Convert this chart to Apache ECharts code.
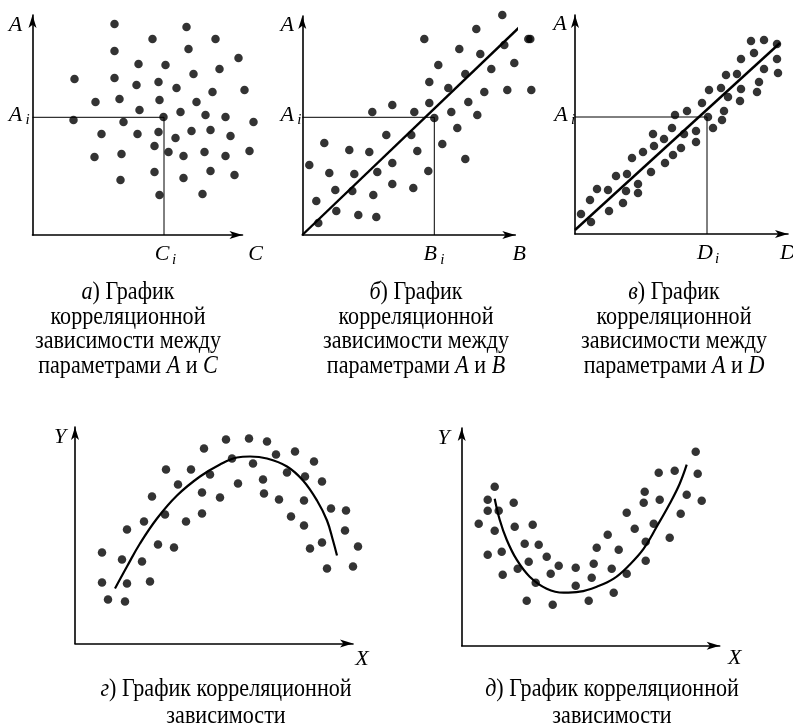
<!DOCTYPE html>
<html><head><meta charset="utf-8">
<script src="https://cdn.jsdelivr.net/npm/echarts@6/dist/echarts.min.js"></script>
<style>html,body{margin:0;padding:0;background:#fff}#c{width:793px;height:726px}</style>
</head><body><div id="c"></div>
<script>
// Panel а: A vs C (no correlation)
const dots1 = [[82,211],[154,208],[120,196],[183,196],[82,184],[156,186],[206,177],[106,171],[133,170],[187,166],[161,161],[42,156],[82,157],[126,153],[104,150],[144,147],[212,145],[180,143],[87,136],[63,133],[127,135],[164,133],[107,125],[148,123],[173,120],[193,118],[131,118],[41,115],[91,113],[221,113],[159,104],[178,105],[69,101],[105,101],[126,103],[198,99],[143,97],[122,89],[136,83],[172,83],[217,84],[62,78],[89,81],[151,79],[193,79],[178,64],[122,63],[202,60],[88,55],[151,57],[170,41],[127,40]];
const ref1 = [131.5, 117.7];
// Panel б: A vs B
const dots2 = [[200,220],[174,206],[122,196],[226,196],[157,186],[202,190],[178,181],[136,170],[212,172],[189,166],[163,161],[127,153],[146,147],[205,145],[228,196],[229,145],[182,143],[70,123],[90,130],[112,123],[127,132],[166,133],[149,123],[132,117],[175,120],[155,107],[84,100],[109,100],[22,92],[47,85],[67,83],[140,91],[115,84],[7,70],[90,72],[163,76],[27,62],[52,61],[75,63],[126,64],[33,45],[50,44],[90,51],[111,47],[14,34],[71,40],[34,24],[56,20],[74,18],[16,12]];
const ref2 = [132, 117.7];
const fit2 = [[0,0],[235,225]];
// Panel в: A vs D
const dots3 = [[176,193],[189,194],[202,190],[179,181],[166,175],[202,175],[189,165],[203,161],[151,159],[162,160],[184,152],[134,144],[146,146],[166,145],[182,142],[153,137],[165,133],[127,131],[149,123],[100,119],[112,123],[133,117],[147,114],[138,106],[97,106],[121,103],[78,100],[89,95],[109,100],[79,88],[121,92],[106,86],[68,82],[98,79],[57,76],[90,71],[76,62],[52,60],[41,58],[63,50],[22,45],[33,44],[51,43],[63,41],[15,34],[48,31],[34,23],[6,20],[16,12]];
const ref3 = [132, 117];
const fit3 = [[0,4],[205,191]];
// Panel г: arch
const dots4 = [[151,204],[174,205],[192,202],[129,195],[220,192],[201,189],[157,185],[178,180],[239,182],[91,174],[116,174],[135,169],[212,171],[230,167],[188,164],[247,162],[103,159],[163,160],[127,151],[189,150],[77,147],[145,146],[204,144],[229,143],[256,135],[271,133],[90,129],[127,130],[216,127],[69,122],[111,122],[229,118],[52,114],[270,113],[83,99],[99,96],[247,101],[235,95],[283,97],[27,91],[47,84],[67,82],[252,75],[278,77],[27,61],[52,60],[75,62],[33,44],[50,42]];
const curve4 = [[40,55],[52,77],[65,100],[82,125],[102,148],[125,167],[145,179],[162,186],[175,187],[192,185],[212,177],[228,163],[242,143],[252,123],[258,103],[262,88]];
// Panel д: bowl
const dots5 = [[234,194],[197,173],[213,175],[236,172],[33,159],[183,154],[26,146],[52,143],[182,143],[198,146],[225,151],[240,145],[26,135],[37,135],[165,133],[219,132],[17,122],[53,119],[71,121],[192,122],[33,115],[173,117],[146,111],[208,108],[63,102],[77,101],[184,104],[135,98],[157,96],[40,94],[26,91],[85,89],[67,84],[184,85],[132,82],[97,80],[114,78],[56,77],[150,77],[89,72],[165,72],[41,71],[130,68],[74,63],[114,60],[152,53],[65,45],[91,41],[127,45]];
const curve5 = [[33,147],[38,126],[45,106],[55,86],[68,69],[85,57],[102,53],[118,54],[135,59],[152,67],[168,81],[182,97],[195,119],[208,142],[218,162],[225,181]];

const yNames = ['A','A','A','Y','Y'];
const xNames = ['C','B','D','X','X'];
const captionsTop = [
  ['{it|а}) График','корреляционной','зависимости между','параметрами {it|A} и {it|C}'],
  ['{it|б}) График','корреляционной','зависимости между','параметрами {it|A} и {it|B}'],
  ['{it|в}) График','корреляционной','зависимости между','параметрами {it|A} и {it|D}']
];
const captionsBottom = [
  ['{it|г}) График корреляционной','зависимости'],
  ['{it|д}) График корреляционной','зависимости']
];

// layout (pixels)
const grids = [
  {left:32.5, top:15, width:210, height:220},
  {left:302.3, top:16, width:213, height:219},
  {left:575, top:15, width:213, height:219},
  {left:75, top:427, width:278, height:216.5},
  {left:461.7, top:428, width:258, height:217.7}
];

const chart = echarts.init(document.getElementById('c'), null, {renderer:'canvas'});
const axisCommon = {
  type:'value', splitLine:{show:false}, axisTick:{show:false}, axisLabel:{show:false},
  axisLine:{show:true, onZero:false, symbol:['none','arrow'], symbolSize:[6,13], lineStyle:{color:'#000', width:1.6}}
};
const xAxis = grids.map((g,i)=>Object.assign({}, axisCommon, {gridIndex:i, min:0, max:g.width}));
const yAxis = grids.map((g,i)=>Object.assign({}, axisCommon, {gridIndex:i, min:0, max:g.height}));

const series = [];
const dotSets = [dots1,dots2,dots3,dots4,dots5];
dotSets.forEach((d,i)=>{
  series.push({type:'scatter', xAxisIndex:i, yAxisIndex:i, data:d, symbolSize:8.5, clip:false,
    itemStyle:{color:'#000'}, silent:true, z:3});
});
[[ref1,0],[ref2,1],[ref3,2]].forEach(([r,i])=>{
  series.push({type:'line', xAxisIndex:i, yAxisIndex:i, data:[[0,r[1]],[r[0],r[1]],[r[0],0]],
    symbol:'none', clip:false, lineStyle:{color:'#000', width:1}, z:2});
});
[[fit2,1],[fit3,2]].forEach(([f,i])=>{
  series.push({type:'line', xAxisIndex:i, yAxisIndex:i, data:f, symbol:'none', clip:false,
    lineStyle:{color:'#000', width:2.4}, z:4});
});
[[curve4,3],[curve5,4]].forEach(([c,i])=>{
  series.push({type:'line', xAxisIndex:i, yAxisIndex:i, data:c, symbol:'none', smooth:0.4, clip:false,
    lineStyle:{color:'#000', width:2.2}, z:4});
});

chart.setOption({
  animation:false,
  backgroundColor:'#fff',
  grid: grids.map(g=>Object.assign({outerBoundsMode:'none', containLabel:false}, g)),
  xAxis, yAxis, series
});

// labels
const serif = '"Liberation Serif", "DejaVu Serif", serif';
const g = [];
function txt(x,y,text,size,opts){
  opts = opts||{};
  g.push({type:'text', x:x, y:y, scaleX:opts.sx||1, z:10, silent:true,
    style:{text:text, font:(opts.italic?'italic ':'')+size+'px '+serif, fill:'#000',
      align:opts.align||'center', verticalAlign:'middle',
      rich: opts.rich||undefined}});
}
function px(i,pt){ return chart.convertToPixel({gridIndex:i}, pt); }

const offs = [
  {top:[-17,10], ai:[-17,-2], ci:[-2,19], end:[13,19]},
  {top:[-15,9], ai:[-15,-2], ci:[-4,19], end:[4,19]},
  {top:[-15,9], ai:[-14,-2], ci:[-2,19], end:[0,19]},
  {top:[-15,10], end:[9,16]},
  {top:[-18,10], end:[15,13]}
];
const refs = [ref1, ref2, ref3];
for (let i=0;i<5;i++){
  const gr = grids[i], o = offs[i];
  const t = px(i,[0,gr.height]);
  txt(t[0]+o.top[0], t[1]+o.top[1], yNames[i], 22, {italic:true});
  const e = px(i,[gr.width,0]);
  txt(e[0]+o.end[0], e[1]+o.end[1], xNames[i], 22, {italic:true});
  if (i<3){
    const r = refs[i];
    const a = px(i,[0,r[1]]);
    txt(a[0]+o.ai[0], a[1]+o.ai[1], yNames[i], 22, {italic:true});
    txt(a[0]+o.ai[0]+12, a[1]+o.ai[1]+5, 'i', 15, {italic:true});
    const c = px(i,[r[0],0]);
    txt(c[0]+o.ci[0], c[1]+o.ci[1], xNames[i], 22, {italic:true});
    txt(c[0]+o.ci[0]+12, c[1]+o.ci[1]+6, 'i', 15, {italic:true});
  }
}
const capSize = 26, capSx = 0.85;
const richIt = {it:{font:'italic '+capSize+'px '+serif}};
const capCenters = [128, 416, 674];
captionsTop.forEach((lines,k)=>{
  lines.forEach((l,j)=>{
    txt(capCenters[k], 292 + j*24.8, l, capSize, {sx:capSx, rich:richIt});
  });
});
const capCenters2 = [226, 612];
captionsBottom.forEach((lines,k)=>{
  lines.forEach((l,j)=>{
    txt(capCenters2[k], 689 + j*27, l, capSize, {sx:capSx, rich:richIt});
  });
});
chart.setOption({graphic:g});
</script></body></html>
